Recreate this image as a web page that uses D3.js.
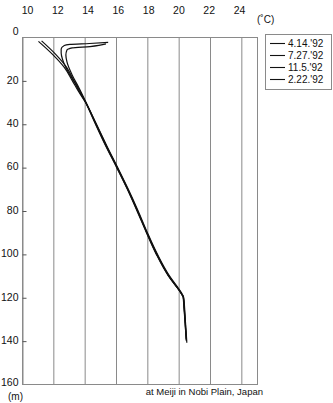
<!DOCTYPE html>
<html>
<head>
<meta charset="utf-8">
<script src="https://cdn.jsdelivr.net/npm/d3@7"></script>
<style>
  body { margin: 0; background: #fff; }
  text { font-family: "Liberation Sans", Arial, sans-serif; fill: #111; }
</style>
</head>
<body>
<div id="draw-space"></div>
<script>
// temperature profile, Meiji (Nobi Plain), depth in m, temp in degC
const seriesNames = ["4.14.'92", "7.27.'92", "11.5.'92", "2.22.'92"];

const depth414 = [1.8, 8, 14, 20, 25, 30, 40, 50, 60, 70, 80, 90, 100, 110, 115, 118, 120, 125, 130, 135, 140];
const temp414  = [11.25, 12.15, 12.85, 13.3, 13.65, 14.05, 14.72, 15.38, 16.07, 16.74, 17.36, 17.96, 18.6, 19.36, 19.86, 20.15, 20.3, 20.36, 20.41, 20.45, 20.5];

const depth727 = [2.5, 3.0, 3.4, 3.9, 5.5, 7.4, 10.6, 17.5, 23.5, 30, 40, 50, 60, 70, 80, 90, 100, 110, 115, 118, 120, 125, 130, 135, 139.5];
const temp727  = [15.5, 14.3, 13.06, 12.7, 12.5, 12.5, 12.6, 13.06, 13.6, 14.05, 14.68, 15.33, 16.03, 16.71, 17.33, 17.93, 18.56, 19.33, 19.84, 20.14, 20.28, 20.34, 20.39, 20.44, 20.48];

const depth115 = [3.2, 4.4, 5.0, 6.0, 8.3, 11.5, 17.5, 23.5, 30, 40, 50, 60, 70, 80, 90, 100, 110, 115, 118, 120, 125, 130, 135, 141];
const temp115  = [15.36, 14.34, 13.2, 12.87, 12.8, 12.87, 13.2, 13.64, 14.08, 14.74, 15.4, 16.09, 16.77, 17.4, 17.99, 18.63, 19.4, 19.9, 20.18, 20.32, 20.38, 20.42, 20.47, 20.52];

const depth222 = [2, 8, 14, 20, 25, 30, 40, 50, 60, 70, 80, 90, 100, 110, 115, 118, 120, 125, 130, 135, 140];
const temp222  = [11.05, 11.95, 12.7, 13.2, 13.6, 14.04, 14.7, 15.35, 16.05, 16.73, 17.36, 17.95, 18.58, 19.35, 19.85, 20.14, 20.3, 20.35, 20.4, 20.44, 20.49];

const xTicks = [10, 12, 14, 16, 18, 20, 22, 24];
const yTicks = [0, 20, 40, 60, 80, 100, 120, 140, 160];

const series = [
  { name: seriesNames[0], depth: depth414, temp: temp414 },
  { name: seriesNames[1], depth: depth727, temp: temp727 },
  { name: seriesNames[2], depth: depth115, temp: temp115 },
  { name: seriesNames[3], depth: depth222, temp: temp222 }
];

const W = 333, H = 403;
const svg = d3.select('#draw-space').append('svg')
              .attr('width', W)
              .attr('height', H);

const xScale = d3.scaleLinear().domain([10, 25]).range([22, 257]);
const yScale = d3.scaleLinear().domain([0, 160]).range([37, 384]);
// labels in the original sit a bit tighter than the grid
const xLabScale = d3.scaleLinear().domain([10, 24]).range([27, 239]);

const grid = '#8a8a8a';

// vertical grid lines
svg.selectAll('.grid-x')
   .data(xTicks.slice(1))
   .enter()
   .append('line')
   .attr('class', 'grid-x')
   .attr('x1', d => xScale(d) + 0.5)
   .attr('x2', d => xScale(d) + 0.5)
   .attr('y1', yScale(0))
   .attr('y2', yScale(160))
   .attr('stroke', grid)
   .attr('stroke-width', 1);

// frame
svg.append('rect')
   .attr('x', xScale(10) + 0.5)
   .attr('y', yScale(0) + 0.5)
   .attr('width', xScale(25) - xScale(10))
   .attr('height', yScale(160) - yScale(0))
   .attr('fill', 'none')
   .attr('stroke', grid);

// left axis, ticks pointing inward
const yAxis = d3.axisLeft(yScale)
                .tickValues(yTicks)
                .tickSizeInner(-4)
                .tickSizeOuter(0)
                .tickPadding(4);

const yG = svg.append('g')
              .attr('transform', `translate(${xScale(10) + 0.5},0.5)`)
              .call(yAxis);
yG.select('.domain').attr('stroke', grid);
yG.selectAll('.tick line').attr('stroke', '#555');
yG.selectAll('.tick text')
  .attr('font-size', 10.5)
  .attr('font-family', '"Liberation Sans", Arial, sans-serif')
  .attr('fill', '#111')
  .attr('dy', d => d === 0 ? '-0.3em' : (d === 160 ? '0.05em' : '0.22em'));
yG.selectAll('.tick').filter(d => d === 0 || d === 160).select('line').remove();

// top labels
const xAxis = d3.axisTop(xLabScale)
                .tickValues(xTicks)
                .tickSize(0)
                .tickPadding(0);
const xG = svg.append('g')
              .attr('transform', 'translate(0,14)')
              .call(xAxis);
xG.select('.domain').remove();
xG.selectAll('.tick text')
  .attr('font-size', 10.5)
  .attr('font-family', '"Liberation Sans", Arial, sans-serif')
  .attr('fill', '#111')
  .attr('dy', 0);

svg.append('text')
   .attr('x', 257)
   .attr('y', 23)
   .attr('font-size', 10)
   .text('(˚C)');

svg.append('text')
   .attr('x', 8)
   .attr('y', 400)
   .attr('font-size', 10)
   .text('(m)');

svg.append('text')
   .attr('x', 263)
   .attr('y', 395)
   .attr('text-anchor', 'end')
   .attr('font-size', 9.5)
   .text('at Meiji in Nobi Plain, Japan');

// profiles
const line = d3.line()
               .x(d => xScale(d[1]))
               .y(d => yScale(d[0]))
               .curve(d3.curveMonotoneY);

svg.selectAll('.profile')
   .data(series)
   .enter()
   .append('path')
   .attr('class', 'profile')
   .attr('d', s => line(s.depth.map((d, i) => [d, s.temp[i]])))
   .attr('fill', 'none')
   .attr('stroke', '#111')
   .attr('stroke-width', 1.2);

// legend
const legend = svg.append('g');
legend.append('rect')
      .attr('x', 265.5)
      .attr('y', 34.5)
      .attr('width', 66)
      .attr('height', 55)
      .attr('fill', '#fff')
      .attr('stroke', grid);

const items = legend.selectAll('.legend-item')
                    .data(seriesNames)
                    .enter()
                    .append('g')
                    .attr('transform', (d, i) => `translate(0,${43.5 + i * 12})`);

items.append('line')
     .attr('x1', 270)
     .attr('x2', 285)
     .attr('stroke', '#111')
     .attr('stroke-width', 1.1);

items.append('text')
     .attr('x', 288)
     .attr('y', 3.6)
     .attr('font-size', 10)
     .text(d => d);
</script>
</body>
</html>
